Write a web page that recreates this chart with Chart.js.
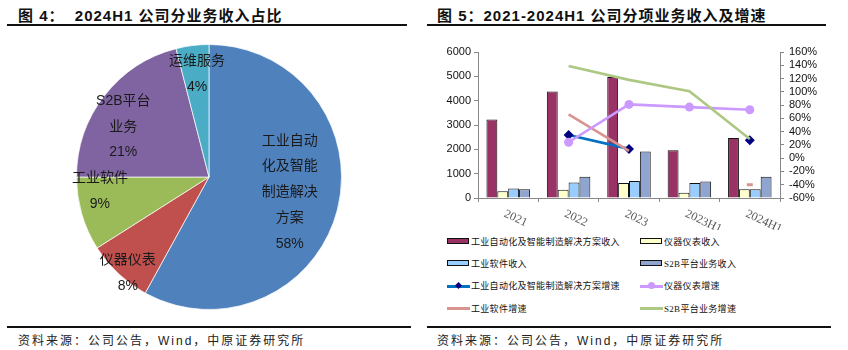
<!DOCTYPE html>
<html>
<head>
<meta charset="utf-8">
<script src="https://cdn.jsdelivr.net/npm/chart.js@4.4.1/dist/chart.umd.min.js"></script>
<style>
  html, body { margin: 0; padding: 0; background: #fff; }
  body { width: 848px; height: 350px; position: relative; overflow: hidden;
         font-family: "Liberation Sans", "Noto Sans CJK SC", sans-serif; }
  .title { position: absolute; top: 4px; font-weight: bold; font-size: 15px; color: #111;
           letter-spacing: 1px; white-space: nowrap; }
  .rule { position: absolute; height: 2px; background: #111; }
  .source { position: absolute; top: 331px; font-size: 12px; letter-spacing: 2px; color: #222;
            white-space: nowrap; font-family: "Liberation Sans", "Noto Sans CJK SC", sans-serif; }
  canvas { position: absolute; }
  #legend { position: absolute; left: 0; top: 0; }
  .lg { position: absolute; height: 14px; display: flex; align-items: center; white-space: nowrap;
        font-size: 9px; letter-spacing: 0.3px; color: #111;
        font-family: "Liberation Serif", "Noto Sans CJK SC", serif; }
  .sym { position: relative; width: 23px; height: 14px; margin-right: 1px; }
</style>
</head>
<body>
<div class="title" style="left:18px">图 4：&nbsp; 2024H1 公司分业务收入占比</div>
<div class="rule" style="left:7px; width:400px; top:24px"></div>
<div class="title" style="left:437px">图 5：2021-2024H1 公司分项业务收入及增速</div>
<div class="rule" style="left:427px; width:399px; top:24px"></div>

<canvas id="pie" width="424" height="290" style="left:0; top:30px"></canvas>
<canvas id="combo" width="424" height="200" style="left:424px; top:30px"></canvas>
<div id="legend"></div>

<div class="rule" style="left:7px; width:404px; top:326px"></div>
<div class="rule" style="left:427px; width:404px; top:326px"></div>
<div class="source" style="left:18px">资料来源：公司公告，Wind，中原证券研究所</div>
<div class="source" style="left:437px">资料来源：公司公告，Wind，中原证券研究所</div>

<script>
// 饼图：2024H1 分业务收入占比
const pieNames = ["工业自动化及智能制造解决方案", "仪器仪表", "工业软件", "S2B平台业务", "运维服务"];
const pieShares = [58, 8, 9, 21, 4];
const pieLines = [["工业自动", "化及智能", "制造解决", "方案"], ["仪器仪表"], ["工业软件"], ["S2B平台", "业务"], ["运维服务"]];

// 柱线图：2021-2024H1
const years = ["2021", "2022", "2023", "2023H1", "2024H1"];
const revAuto = [3230, 4380, 4970, 1960, 2470];
const revInst = [280, 340, 620, 220, 360];
const revSoft = [390, 640, 700, 620, 360];
const revS2B = [360, 870, 1910, 680, 870];
const growAuto = [null, 35, 14, null, 27];
const growInst = [null, 24, 81, 77, 73];
const growSoft = [null, 66, 11, null, -40];
const growS2B = [null, 139, 118, 101, 29];
const seriesNames = [
  "工业自动化及智能制造解决方案收入", "仪器仪表收入",
  "工业软件收入", "S2B平台业务收入",
  "工业自动化及智能制造解决方案增速", "仪器仪表增速",
  "工业软件增速", "S2B平台业务增速"
];

// Labelposition je Segment: [Radius-Anteil, Winkelkorrektur in Grad]
const pieLabelPos = [[0.62, -3.6], [0.95, -3], [0.83, 9], [0.75, -7.4], [0.78, 0.6]];

const pieLabelPlugin = {
  id: "pieLabels",
  afterDatasetsDraw(chart) {
    const ctx = chart.ctx;
    const meta = chart.getDatasetMeta(0);
    ctx.save();
    ctx.font = '14px "Liberation Sans", "Noto Sans CJK SC", sans-serif';
    ctx.fillStyle = "#1a1a1a";
    ctx.textAlign = "center";
    ctx.textBaseline = "middle";
    meta.data.forEach((arc, i) => {
      const p = arc.getProps(["x", "y", "startAngle", "endAngle", "outerRadius"], true);
      const mid = (p.startAngle + p.endAngle) / 2 + pieLabelPos[i][1] * Math.PI / 180;
      const r = p.outerRadius * pieLabelPos[i][0];
      const cx = p.x + Math.cos(mid) * r;
      const cy = p.y + Math.sin(mid) * r;
      const lines = pieLines[i].concat([pieShares[i] + "%"]);
      const lh = 25.8;
      lines.forEach((t, j) => {
        ctx.fillText(t, cx, cy + (j - (lines.length - 1) / 2) * lh);
      });
    });
    ctx.restore();
  }
};

new Chart(document.getElementById("pie"), {
  type: "pie",
  data: {
    labels: pieNames,
    datasets: [{
      data: pieShares,
      backgroundColor: ["#4F81BD", "#C0504D", "#9BBB59", "#8064A2", "#4BACC6"],
      borderColor: "rgba(255,255,255,0.7)",
      borderWidth: 1
    }]
  },
  options: {
    responsive: false,
    animation: false,
    devicePixelRatio: 1,
    layout: { padding: { left: 76, right: 82, top: 14, bottom: 10 } },
    plugins: { legend: { display: false }, tooltip: { enabled: false } }
  },
  plugins: [pieLabelPlugin]
});

// X-Achsenbeschriftung schräg (im Uhrzeigersinn gedreht)
const slantLabels = {
  id: "slantLabels",
  afterDraw(chart) {
    const sx = chart.scales.x;
    const ctx = chart.ctx;
    ctx.save();
    ctx.font = '12px "Liberation Serif", serif';
    ctx.fillStyle = "#555";
    ctx.textAlign = "left";
    ctx.textBaseline = "top";
    years.forEach((lab, i) => {
      const x = sx.getPixelForTick(i);
      ctx.save();
      ctx.translate(x - 1, sx.top + 10);
      ctx.rotate(25 * Math.PI / 180);
      ctx.fillText(lab, 0, 0);
      ctx.restore();
    });
    ctx.restore();
  }
};

const tickFont = { family: '"Liberation Sans", Arial, sans-serif', size: 11, lineHeight: 1 };

const barDs = (label, data, color) => ({
  type: "bar", label, data, backgroundColor: color,
  borderColor: "#111", borderWidth: 1, yAxisID: "y", order: 2,
  categoryPercentage: 0.72, barPercentage: 1.0
});

const lineDs = (label, data, color, extra) => Object.assign({
  type: "line", label, data, borderColor: color, backgroundColor: color,
  borderWidth: 2.6, tension: 0, spanGaps: false, yAxisID: "y1", order: 1,
  pointRadius: 0
}, extra || {});

new Chart(document.getElementById("combo"), {
  data: {
    labels: years,
    datasets: [
      barDs(seriesNames[0], revAuto, "#993366"),
      barDs(seriesNames[1], revInst, "#FFFFCC"),
      barDs(seriesNames[2], revSoft, "#99CCFF"),
      barDs(seriesNames[3], revS2B, "#8FA4CF"),
      lineDs(seriesNames[7], growS2B, "#ADC883"),
      lineDs(seriesNames[5], growInst, "#CC99FF", { pointRadius: 4.5, pointStyle: "circle", pointBorderWidth: 0 }),
      lineDs(seriesNames[6], growSoft, "#D8958F", { pointRadius: [0, 0, 0, 0, 3], pointStyle: "line", pointBorderWidth: 3 }),
      lineDs(seriesNames[4], growAuto, "#0070C0", { pointRadius: 5, pointStyle: "rectRot",
        pointBackgroundColor: "#000080", pointBorderColor: "#000080", pointBorderWidth: 0 })
    ]
  },
  options: {
    responsive: false,
    animation: false,
    devicePixelRatio: 1,
    layout: { padding: { left: 14, right: 8, top: 22, bottom: 0 } },
    plugins: { legend: { display: false }, tooltip: { enabled: false } },
    scales: {
      x: {
        type: "category",
        offset: true,
        grid: { offset: true, drawOnChartArea: false, tickLength: 4, color: "#888" },
        border: { color: "#888" },
        ticks: { display: false },
        afterFit: s => { s.height = 32; }
      },
      y: {
        position: "left",
        min: 0, max: 6000,
        grid: { drawOnChartArea: false, tickLength: 4, color: "#888" },
        border: { color: "#888" },
        ticks: { stepSize: 1000, autoSkip: false, font: tickFont, color: "#111", padding: 3,
                 callback: v => String(v) },
        afterFit: s => { s.width = 40; }
      },
      y1: {
        position: "right",
        min: -60, max: 160,
        grid: { drawOnChartArea: false, tickLength: 4, color: "#888" },
        border: { color: "#888" },
        ticks: { stepSize: 20, autoSkip: false, maxTicksLimit: 20, font: tickFont, color: "#111", padding: 5,
                 callback: v => v + "%" },
        afterFit: s => { s.width = 60; }
      }
    }
  },
  plugins: [slantLabels]
});

// Legende (zweispaltig)
const legendKinds = [
  { kind: "bar", color: "#993366" }, { kind: "bar", color: "#FFFFCC" },
  { kind: "bar", color: "#99CCFF" }, { kind: "bar", color: "#8FA4CF" },
  { kind: "line", color: "#0070C0", marker: "diamond" }, { kind: "line", color: "#CC99FF", marker: "circle" },
  { kind: "line", color: "#D8958F" }, { kind: "line", color: "#ADC883" }
];
const legend = document.getElementById("legend");
seriesNames.forEach((name, i) => {
  const row = Math.floor(i / 2), col = i % 2;
  const item = document.createElement("div");
  item.className = "lg";
  item.style.left = (col === 0 ? 447 : 640) + "px";
  item.style.top = (234 + row * 22.4) + "px";
  const sym = document.createElement("div");
  sym.className = "sym";
  const k = legendKinds[i];
  if (k.kind === "bar") {
    sym.innerHTML = '<div style="position:absolute;left:0;top:4px;width:20px;height:4px;border:1.5px solid #111;background:' + k.color + '"></div>';
  } else {
    let html = '<div style="position:absolute;left:0;top:6px;width:23px;height:3px;background:' + k.color + '"></div>';
    if (k.marker === "diamond") {
      html += '<div style="position:absolute;left:9px;top:4px;width:5px;height:5px;background:#000080;transform:rotate(45deg)"></div>';
    } else if (k.marker === "circle") {
      html += '<div style="position:absolute;left:8px;top:3.5px;width:7px;height:7px;border-radius:50%;background:' + k.color + '"></div>';
    }
    sym.innerHTML = html;
  }
  item.appendChild(sym);
  const txt = document.createElement("span");
  txt.textContent = name;
  item.appendChild(txt);
  legend.appendChild(item);
});
</script>
</body>
</html>
